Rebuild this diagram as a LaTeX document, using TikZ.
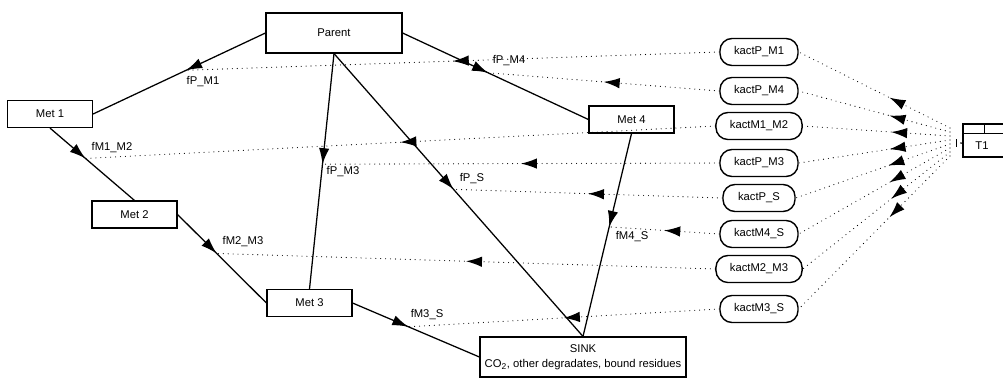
\documentclass[tikz,border=0pt]{standalone}
\usepackage{fontspec}
\setmainfont{Liberation Sans}
\usetikzlibrary{arrows.meta,decorations.markings}
\tikzset{
box/.style={draw,line width=0.8pt,minimum width=2.125cm,minimum height=0.675cm,inner sep=0pt},
kact/.style={draw,line width=1pt,rounded corners=0.3cm,minimum width=1.8cm,minimum height=0.675cm,inner xsep=0.35cm,inner ysep=0pt},
flow/.style={line width=0.9pt,decoration={markings,mark=at position #1 with {\arrow[solid]{Latex[length=4mm,width=2.6mm]}}},postaction={decorate}},
infl/.style={line width=0.8pt,line cap=round,dash pattern=on 0pt off 3.5pt,decoration={markings,mark=at position #1 with {\arrow[solid,line cap=butt]{Latex[length=4mm,width=2.6mm]}}},postaction={decorate}},
lbl/.style={inner sep=0pt}
}
\begin{document}
\begin{tikzpicture}[x=0.025cm,y=-0.025cm,font=\fontsize{8}{9.6}\selectfont]
\useasboundingbox (0,0) rectangle (1003,377);
\clip (0,0) rectangle (1003,377);
\node[box,minimum width=3.4cm,minimum height=1cm] (Parent) at (334,33) {Parent};
\node[box] (Met1) at (50,114) {Met 1};
\node[box] (Met2) at (134.5,214.5) {Met 2};
\node[box] (Met3) at (309.5,303) {Met 3};
\node[box] (Met4) at (631.5,119.5) {Met 4};
\node[box,minimum width=5.15cm,minimum height=1cm,align=center,font=\fontsize{8}{10.5}\selectfont] (SINK) at (583,357) {SINK\\CO\textsubscript{2}, other degradates, bound residues};
\node[kact] (kactPM1) at (759,52) {kactP\_M1};
\node[kact] (kactPM4) at (759,91) {kactP\_M4};
\node[kact] (kactM1M2) at (759,126) {kactM1\_M2};
\node[kact] (kactPM3) at (759,163) {kactP\_M3};
\node[kact] (kactPS) at (759,198) {kactP\_S};
\node[kact] (kactM4S) at (759,234) {kactM4\_S};
\node[kact] (kactM2M3) at (759,269) {kactM2\_M3};
\node[kact] (kactM3S) at (759,309) {kactM3\_S};
\draw[line width=1pt] (1010,124) -- (963,124) -- (963,157) -- (1010,157);
\draw[line width=0.6pt] (963,133) -- (1010,133);
\draw[line width=0.6pt] (984,124) -- (984,133);
\node (T1) at (982,146) {T1};
\draw[line width=0.5pt] (956,139) -- (956,147);
\fill (961,143) circle (0.7pt);
\draw[flow=.46] (Parent.west) -- coordinate[pos=.46] (fPM1) (Met1.east);
\draw[flow=.42] (Met1.south) -- coordinate[pos=.42] (fM1M2) (Met2.north);
\draw[flow=.44] (Met2.east) -- coordinate[pos=.44] (fM2M3) (Met3.west);
\draw[flow=.47] (Parent.south) -- coordinate[pos=.47] (fPM3) (Met3.north);
\draw[flow=.48] (Parent.south) -- coordinate[pos=.48] (fPS) (SINK.north);
\draw[flow=.46] (Parent.east) -- coordinate[pos=.46] (fPM4) (Met4.west);
\draw[flow=.46] (Met4.south) -- coordinate[pos=.46] (fM4S) (SINK.north);
\draw[flow=.44] (Met3.east) -- coordinate[pos=.44] (fM3S) (SINK.west);
\node[lbl] (lfPM1) at (203,82) {fP\_M1};
\node[lbl] (lfM1M2) at (112,148) {fM1\_M2};
\node[lbl] (lfM2M3) at (243,242) {fM2\_M3};
\node[lbl] (lfPM3) at (343,172) {fP\_M3};
\node[lbl] (lfPS) at (472,179) {fP\_S};
\node[lbl] (lfPM4) at (509,61) {fP\_M4};
\node[lbl] (lfM4S) at (632,237) {fM4\_S};
\node[lbl] (lfM3S) at (427,315) {fM3\_S};
\draw[infl=.5] (kactPM1.west) -- (fPM1);
\draw[infl=.5] (kactPM4.west) -- (fPM4);
\draw[infl=.5] (kactM1M2.west) -- (fM1M2);
\draw[infl=.5] (kactPM3.west) -- (fPM3);
\draw[infl=.5] (kactPS.west) -- (fPS);
\draw[infl=.5] (kactM4S.west) -- (fM4S);
\draw[infl=.5] (kactM2M3.west) -- (fM2M3);
\draw[infl=.5] (kactM3S.west) -- (fM3S);
\coordinate (t1a) at (950,128);
\coordinate (t1b) at (950,132);
\coordinate (t1c) at (950,136);
\coordinate (t1d) at (950,140);
\coordinate (t1e) at (950,144);
\coordinate (t1f) at (950,148);
\coordinate (t1g) at (950,152);
\coordinate (t1h) at (950,156);
\draw[infl=.4] (t1a) -- (kactPM1.east);
\draw[infl=.4] (t1b) -- (kactPM4.east);
\draw[infl=.4] (t1c) -- (kactM1M2.east);
\draw[infl=.4] (t1d) -- (kactPM3.east);
\draw[infl=.4] (t1e) -- (kactPS.east);
\draw[infl=.4] (t1f) -- (kactM4S.east);
\draw[infl=.4] (t1g) -- (kactM2M3.east);
\draw[infl=.4] (t1h) -- (kactM3S.east);
\end{tikzpicture}
\end{document}
